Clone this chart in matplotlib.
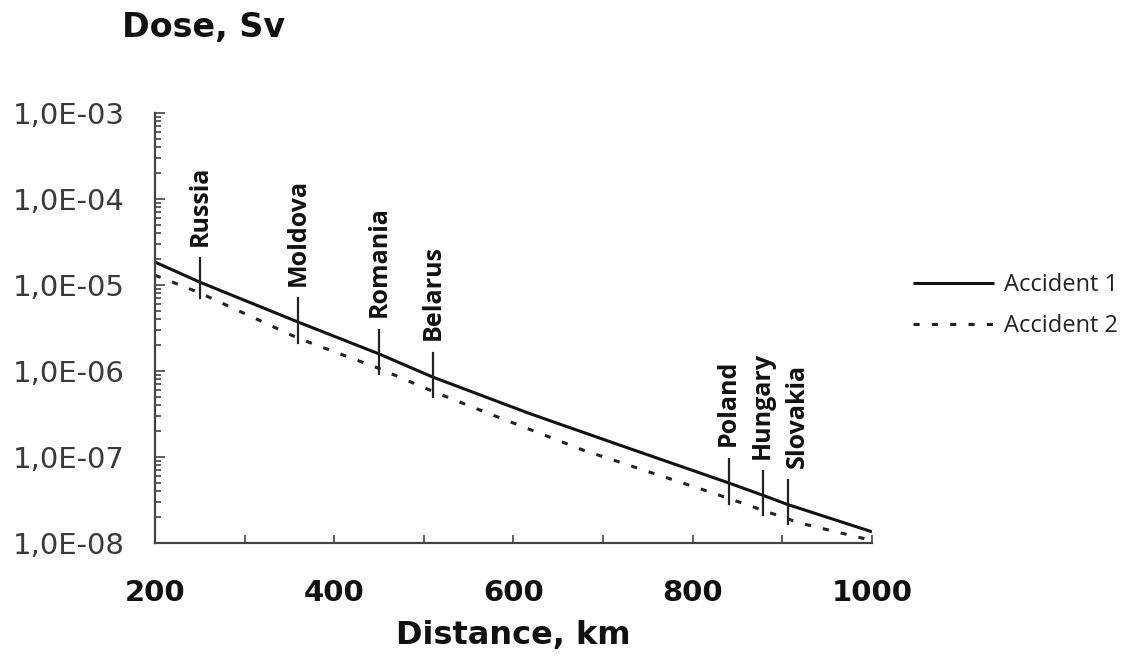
import numpy as np
import matplotlib
matplotlib.use("Agg")
import matplotlib.pyplot as plt
from matplotlib.ticker import FixedLocator, MultipleLocator, LogLocator, NullFormatter

# data
dist1 = [200, 250, 360, 450, 510, 618, 730, 840, 878, 906, 1000]
dose1 = [1.85e-5, 1.08e-5, 3.7e-6, 1.58e-6, 8.5e-7, 3.2e-7, 1.25e-7, 5.0e-8, 3.6e-8, 2.8e-8, 1.35e-8]

dist2 = [200, 250, 360, 450, 510, 563, 678, 823, 920, 1000]
dose2 = [1.3e-5, 8.1e-6, 2.4e-6, 1.07e-6, 5.8e-7, 3.5e-7, 1.2e-7, 3.8e-8, 1.7e-8, 1.07e-8]

countries = ["Russia", "Moldova", "Romania", "Belarus", "Poland", "Hungary", "Slovakia"]
country_km = [250, 360, 450, 510, 840, 878, 906]

ytick_vals = [1e-3, 1e-4, 1e-5, 1e-6, 1e-7, 1e-8]
ytick_labels = ["1,0E-03", "1,0E-04", "1,0E-05", "1,0E-06", "1,0E-07", "1,0E-08"]
xtick_vals = [200, 400, 600, 800, 1000]

fig = plt.figure(figsize=(11.41, 6.66), dpi=100)
ax = fig.add_axes([0.1358, 0.1847, 0.6284, 0.6456])

ax.plot(dist1, dose1, color="#111111", lw=2.2, label="Accident 1", solid_capstyle="butt")
ax.plot(dist2, dose2, color="#222222", lw=2.2, ls=(0, (2, 4)), label="Accident 2")

ax.set_yscale("log")
ax.set_xlim(200, 1000)
ax.set_ylim(1e-8, 1e-3)

# country markers across the curves
def logint(x, xs, ys):
    return 10 ** np.interp(x, xs, np.log10(ys))

for name, km in zip(countries, country_km):
    top = logint(km, dist1, dose1) * 10 ** 0.28
    bot = logint(km, dist2, dose2) / 10 ** 0.06
    ax.plot([km, km], [bot, top], color="#222222", lw=1.6)
    dx = 7 if name == "Slovakia" else 0
    ax.annotate(name, (km, top), xytext=(dx, 9), textcoords="offset points",
                rotation=90, ha="center", va="bottom", fontsize=18,
                fontweight="bold", family="Open Sans", color="#111111")

for s in ["top", "right"]:
    ax.spines[s].set_visible(False)
for s in ["left", "bottom"]:
    ax.spines[s].set_color("#444444")
    ax.spines[s].set_linewidth(1.6)

ax.yaxis.set_major_locator(FixedLocator(ytick_vals))
ax.set_yticklabels(ytick_labels)
ax.yaxis.set_minor_locator(LogLocator(base=10, subs=np.arange(2, 10)))
ax.yaxis.set_minor_formatter(NullFormatter())
ax.tick_params(axis="y", which="both", direction="in", colors="#444444", width=1.2)
ax.tick_params(axis="y", which="major", length=7, pad=22, labelsize=21, labelcolor="#3a3a3a")
ax.tick_params(axis="y", which="minor", length=4)
for lab in ax.get_yticklabels():
    lab.set_family("DejaVu Sans")

ax.xaxis.set_major_locator(FixedLocator(xtick_vals))
ax.xaxis.set_minor_locator(MultipleLocator(100))
ax.tick_params(axis="x", which="both", direction="in", colors="#444444", width=1.2, length=6)
ax.tick_params(axis="x", which="major", pad=26, labelsize=21, labelcolor="#111111")
for lab in ax.get_xticklabels():
    lab.set_family("DejaVu Sans")
    lab.set_fontweight("bold")

ax.set_xlabel("Distance, km", fontsize=23, fontweight="bold", family="DejaVu Sans",
              color="#111111", labelpad=9)
fig.text(122 / 1141, 1 - 28 / 666, "Dose, Sv", fontsize=24, fontweight="bold",
         family="DejaVu Sans", color="#111111", ha="left", va="center")

leg = ax.legend(loc="upper left", bbox_to_anchor=(892 / 1141, 1 - 252 / 666),
                bbox_transform=fig.transFigure, frameon=False, handlelength=3.4,
                handletextpad=0.45, labelspacing=0.7,
                prop={"family": "Open Sans", "size": 17})
for t in leg.get_texts():
    t.set_color("#222222")

fig.savefig("out.png", dpi=100)
